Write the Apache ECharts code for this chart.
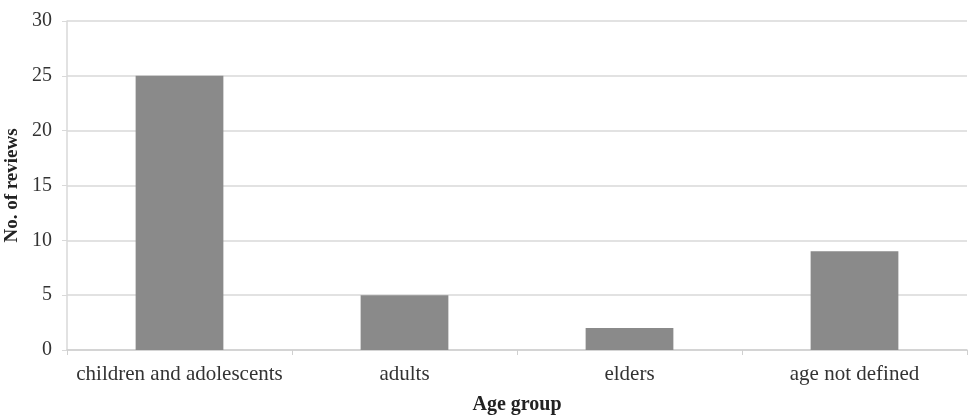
<!DOCTYPE html>
<html><head><meta charset="utf-8">
<script src="https://cdn.jsdelivr.net/npm/echarts@6/dist/echarts.min.js"></script>
<style>html,body{margin:0;padding:0;background:#fff}#c{width:970px;height:419px}</style>
</head><body><div id="c"></div>
<script>
const categories = ['children and adolescents', 'adults', 'elders', 'age not defined'];
const reviews = [25, 5, 2, 9];
const yTicks = { min: 0, max: 30, interval: 5 };
const font = '"Liberation Serif", "DejaVu Serif", serif';
const chart = echarts.init(document.getElementById('c'));
chart.setOption({
  animation: false,
  grid: { left: 67, right: 3, top: 21, bottom: 69, containLabel: false, outerBoundsMode: 'none' },
  xAxis: {
    type: 'category', data: categories,
    name: 'Age group', nameLocation: 'middle', nameGap: 45,
    nameTextStyle: { fontFamily: font, fontWeight: 'bold', fontSize: 20, color: '#222' },
    axisLine: { lineStyle: { color: '#d0d0d0', width: 1.5 } },
    axisTick: { show: true, length: 5, lineStyle: { color: '#d0d0d0' } },
    axisLabel: { fontFamily: font, fontSize: 21, color: '#333', margin: 14, interval: 0 }
  },
  yAxis: {
    type: 'value', min: yTicks.min, max: yTicks.max, interval: yTicks.interval,
    name: 'No. of reviews', nameLocation: 'middle', nameGap: 42, nameRotate: 90,
    nameTextStyle: { fontFamily: font, fontWeight: 'bold', fontSize: 19, color: '#222' },
    axisLine: { show: true, lineStyle: { color: '#d9d9d9', width: 1.5 } },
    axisTick: { show: true, length: 5, lineStyle: { color: '#d9d9d9' } },
    axisLabel: { fontFamily: font, fontSize: 20, color: '#333', margin: 15 },
    splitLine: { lineStyle: { color: '#d9d9d9', width: 1.5 } }
  },
  series: [{
    type: 'bar', data: reviews, barWidth: '39%',
    itemStyle: { color: '#8a8a8a' }
  }]
});
</script></body></html>
